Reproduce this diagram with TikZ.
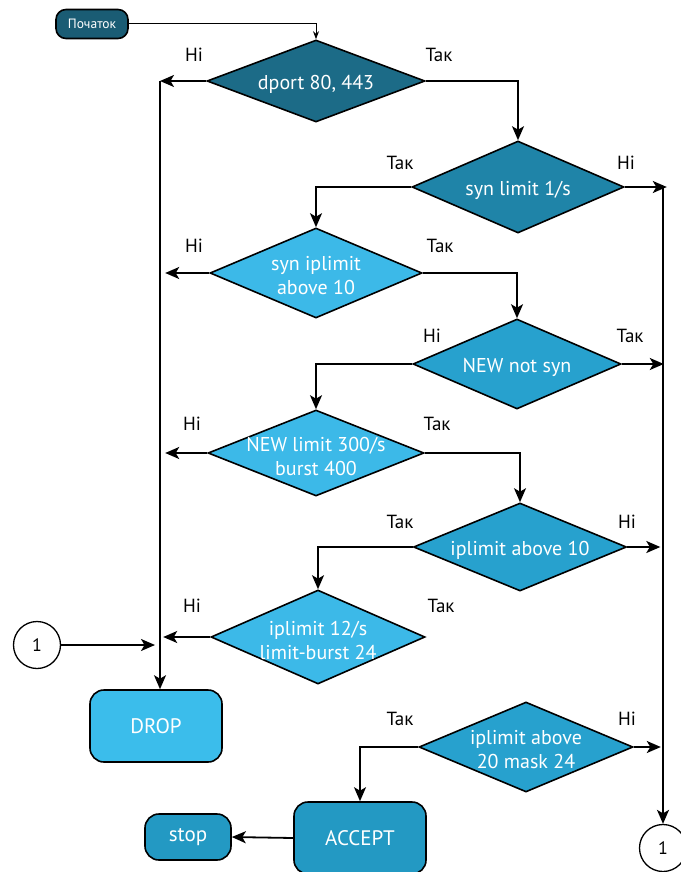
\documentclass[tikz,border=0pt]{standalone}
\usepackage{fontspec}
\setmainfont{PT Sans}
\usetikzlibrary{shapes.geometric,arrows.meta}
\definecolor{cstart}{HTML}{1A5C74}
\definecolor{cdark}{HTML}{1C6B87}
\definecolor{cmidd}{HTML}{1F84A8}
\definecolor{cmid}{HTML}{27A1CE}
\definecolor{clight}{HTML}{3CB9E8}
\definecolor{cdrop}{HTML}{3BBDEB}
\definecolor{cacc}{HTML}{2399C3}
\tikzset{
  dec/.style={diamond,draw=black,line width=1.6pt,inner sep=0pt},
  dtext/.style={text=white,align=center,font=\fontsize{20}{24}\selectfont,inner sep=0pt,yshift=-3pt},
  term/.style={rectangle,rounded corners=14pt,draw=black,line width=1.6pt,text=white,align=center,font=\fontsize{21}{24}\selectfont},
  conn/.style={circle,draw=black,line width=1.3pt,fill=white,minimum size=47pt,inner sep=0pt,font=\fontsize{18}{20}\selectfont},
  lab/.style={font=\fontsize{19}{21}\selectfont,text=black},
  flow/.style={line width=1.8pt,-{Stealth[length=14pt,width=12pt,inset=3.5pt]}},
}
\begin{document}
\begin{tikzpicture}[x=1pt,y=-1pt]
\useasboundingbox (0,0) rectangle (680,872);
% nodes
\node[term,fill=cstart,rounded corners=10pt,minimum width=72pt,minimum height=29pt,font=\fontsize{13.5}{15}\selectfont] (start) at (92,24) {Початок};
\node[dec,fill=cdark,minimum width=218pt,minimum height=82pt] (d1) at (316,81) {};
\node[dec,fill=cmidd,minimum width=212pt,minimum height=92pt] (d2) at (518,187) {};
\node[dec,fill=clight,minimum width=212pt,minimum height=90pt] (d3) at (316,273) {};
\node[dec,fill=cmid,minimum width=208pt,minimum height=90pt] (d4) at (517,364) {};
\node[dec,fill=clight,minimum width=216pt,minimum height=86pt] (d5) at (316,453) {};
\node[dec,fill=cmid,minimum width=213pt,minimum height=88pt] (d6) at (520,547) {};
\node[dec,fill=clight,minimum width=214pt,minimum height=94pt] (d7) at (318,637) {};
\node[dec,fill=cmid,minimum width=214pt,minimum height=90pt] (d8) at (526,747) {};
\node[dtext] (d1t) at (d1.center) {dport 80, 443};
\node[dtext] (d2t) at (d2.center) {syn limit 1/s};
\node[dtext] (d3t) at (d3.center) {syn iplimit\\above 10};
\node[dtext] (d4t) at (d4.center) {NEW not syn};
\node[dtext] (d5t) at (d5.center) {NEW limit 300/s\\burst 400};
\node[dtext] (d6t) at (d6.center) {iplimit above 10};
\node[dtext] (d7t) at (d7.center) {iplimit 12/s\\limit-burst 24};
\node[dtext] (d8t) at (d8.center) {iplimit above\\20 mask 24};
\node[term,fill=cdrop,minimum width=132pt,minimum height=72pt] (drop) at (156,726) {DROP};
\node[term,fill=cacc,minimum width=132pt,minimum height=72pt] (acc) at (360,838) {ACCEPT};
\node[term,fill=cacc,minimum width=86pt,minimum height=46pt] (stop) at (188,837) {stop};
\node[conn] (c1l) at (37,645) {1};
\node[conn] (c1r) at (663,848) {1};
% coordinates
\coordinate (lx1) at (160,81);
\coordinate (rx1) at (663,187);
\coordinate (in1) at (155,645);
% start
\draw[line width=1pt,-{Stealth[length=8pt,width=6pt]}] (start.east) -| (d1.north);
% d1
\draw[flow] (d1.west) -- (lx1);
\draw[flow] (lx1) -- (lx1 |- drop.north);
\draw[flow] (d1.east) -| (d2.north);
% d2
\draw[flow] (d2.east) -- ++(42,0);
\draw[flow] (rx1) -- (c1r.north);
\draw[flow] (d2.west) -| (d3.north);
% d3
\draw[flow] (d3.west) -- ++(-44,0);
\draw[flow] (d3.east) -| (d4.north);
% d4
\draw[flow] (d4.east) -- ++(42,0);
\draw[flow] (d4.west) -| (d5.north);
% d5
\draw[flow] (d5.west) -- ++(-42,0);
\draw[flow] (d5.east) -| (d6.north);
% d6
\draw[flow] (d6.east) -- ++(33,0);
\draw[flow] (d6.west) -| (d7.north);
% d7
\draw[flow] (d7.west) -- ++(-47,0);
% connector 1
\draw[flow] (c1l.east) -- (in1);
% d8
\draw[flow] (d8.east) -- ++(27,0);
\draw[flow] (d8.west) -| (acc.north);
\draw[flow] (acc.west) -- (stop.east);
% labels
\node[lab] (l1n) at (194,55) {Ні};
\node[lab] (l1t) at (439,55) {Так};
\node[lab] (l2t) at (400,163) {Так};
\node[lab] (l2n) at (626,163) {Ні};
\node[lab] (l3n) at (194,246) {Ні};
\node[lab] (l3t) at (440,246) {Так};
\node[lab] (l4n) at (432,336) {Ні};
\node[lab] (l4t) at (630,336) {Так};
\node[lab] (l5n) at (192,424) {Ні};
\node[lab] (l5t) at (437,424) {Так};
\node[lab] (l6t) at (400,522) {Так};
\node[lab] (l6n) at (627,522) {Ні};
\node[lab] (l7n) at (192,606) {Ні};
\node[lab] (l7t) at (441,606) {Так};
\node[lab] (l8t) at (400,719) {Так};
\node[lab] (l8n) at (627,719) {Ні};
\end{tikzpicture}
\end{document}
